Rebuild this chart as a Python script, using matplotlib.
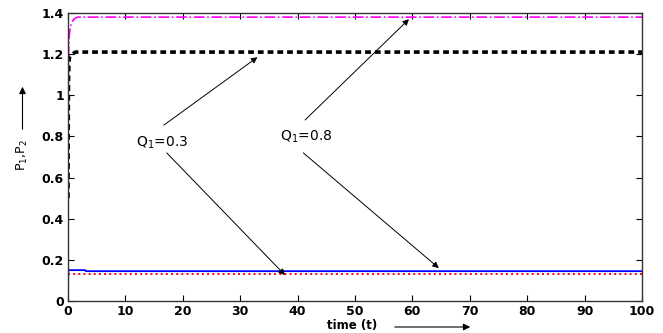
import matplotlib
matplotlib.use('Agg')
from matplotlib import pyplot as plt

plt.rcParams['font.family'] = ['DejaVu Sans']
plt.rcParams['mathtext.fontset'] = 'dejavusans'
plt.rcParams['mathtext.default'] = 'regular'

# curves
t = [0, 0.05, 0.1, 0.2, 0.3, 0.5, 0.8, 1.0, 1.3, 1.7, 2.0, 3.0, 100]
p_high = [0.5, 1.0, 1.2, 1.28, 1.31, 1.34, 1.36, 1.37, 1.375, 1.38, 1.38, 1.38, 1.38]
p_low = [0.5, 0.9, 1.1, 1.17, 1.19, 1.195, 1.2, 1.205, 1.21, 1.21, 1.21, 1.21, 1.21]

t_blue = [0, 0.05, 3.0, 3.1, 100]
p_blue = [0.05, 0.15, 0.15, 0.145, 0.145]

t_red = [0, 100]
p_red = [0.13, 0.13]

xticks = list(range(0, 101, 10))
yticks = [0, 0.2, 0.4, 0.6, 0.8, 1.0, 1.2, 1.4]
yticklabels = ['0', '0.2', '0.4', '0.6', '0.8', '1', '1.2', '1.4']

fig = plt.figure(figsize=(6.63, 3.33), dpi=100)
ax = fig.add_axes([68 / 663, 32 / 333, 574 / 663, 288 / 333])

ax.plot(t, p_high, '-.', color='#ff00ff', lw=1.2)
ax.plot(t, p_low, color='black', lw=2.6, linestyle=(0, (1.6, 1.1)))
ax.plot(t_blue, p_blue, '-', color='#0000ff', lw=1.3)
ax.plot(t_red, p_red, ':', color='#ff0000', lw=1.4)

ax.set_xlim(0, 100)
ax.set_ylim(0, 1.4)
ax.set_xticks(xticks)
ax.set_yticks(yticks)
ax.set_yticklabels(yticklabels)
ax.tick_params(direction='in', top=True, right=True, length=4, width=0.8,
               labelsize=9, pad=3)
for lab in ax.get_xticklabels() + ax.get_yticklabels():
    lab.set_fontweight('bold')
for s in ax.spines.values():
    s.set_linewidth(1.0)
    s.set_color('#333333')

arrow = dict(arrowstyle='-|>', color='black', lw=0.7, mutation_scale=9,
             shrinkA=0, shrinkB=0)

# Q1 = 0.3
ax.text(16.4, 0.77, 'Q$_1$=0.3', fontsize=10, ha='center', va='center')
ax.annotate('', xy=(33.0, 1.185), xytext=(16.7, 0.855), arrowprops=arrow)
ax.annotate('', xy=(37.8, 0.126), xytext=(17.2, 0.72), arrowprops=arrow)

# Q1 = 0.8
ax.text(41.5, 0.80, 'Q$_1$=0.8', fontsize=10, ha='center', va='center')
ax.annotate('', xy=(59.4, 1.37), xytext=(41.3, 0.88), arrowprops=arrow)
ax.annotate('', xy=(64.6, 0.16), xytext=(41.0, 0.72), arrowprops=arrow)

# axis labels with pointing arrows
fig.text(352 / 663, 1 - 325 / 333, 'time (t)', fontsize=8.5, fontweight='bold',
         ha='center', va='center')
fig.add_artist(matplotlib.patches.FancyArrowPatch(
    (392 / 663, 1 - 327 / 333), (473 / 663, 1 - 327 / 333),
    transform=fig.transFigure, arrowstyle='-|>', color='black', lw=0.8,
    mutation_scale=10))
fig.text(22 / 663, 1 - 155 / 333, 'P$_1$,P$_2$', fontsize=9, rotation=90,
         ha='center', va='center')
fig.add_artist(matplotlib.patches.FancyArrowPatch(
    (22.5 / 663, 1 - 132 / 333), (22.5 / 663, 1 - 84 / 333),
    transform=fig.transFigure, arrowstyle='-|>', color='black', lw=0.8,
    mutation_scale=10))

fig.savefig('out.png', dpi=100)
